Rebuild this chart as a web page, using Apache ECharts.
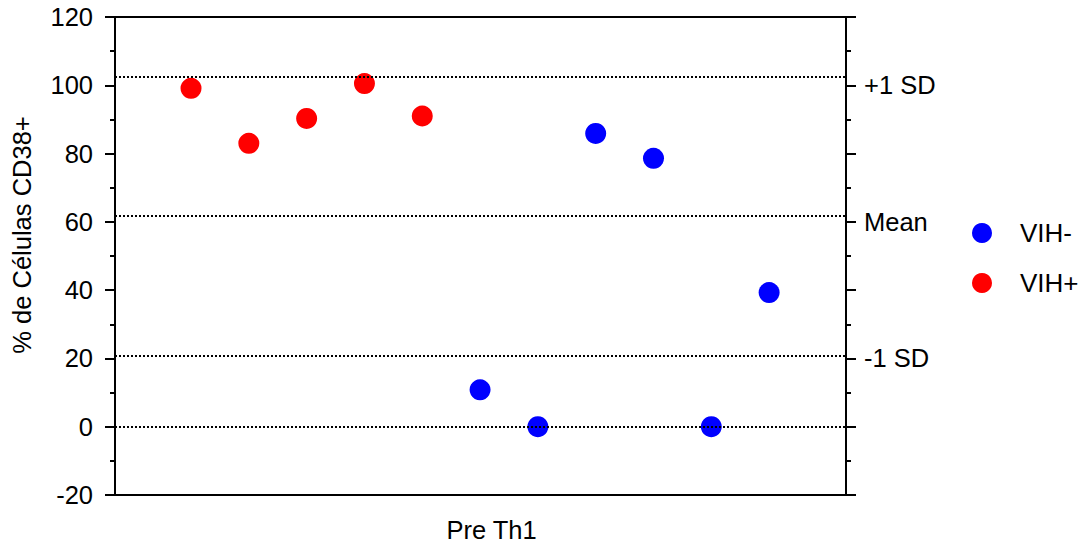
<!DOCTYPE html>
<html>
<head>
<meta charset="utf-8">
<script src="https://cdn.jsdelivr.net/npm/echarts@6/dist/echarts.min.js"></script>
<style>
html,body{margin:0;padding:0;background:#fff;}
#chart{width:1086px;height:544px;}
</style>
</head>
<body>
<div id="chart"></div>
<script>
// ---- data ----
const categoryLabel = 'Pre Th1';
const yAxisTitle = '% de Células CD38+';
const seriesNames = ['VIH-', 'VIH+'];
const vihNegPos = [5, 6, 7, 8, 9, 10];
const vihNegVals = [10.8, 0, 85.9, 78.6, 0, 39.3];
const vihPosPos = [0, 1, 2, 3, 4];
const vihPosVals = [99.1, 83.0, 90.3, 100.5, 91.0];
const refLineVals = [102.6, 61.8, 20.8, 0];
const rightLabelTicks = [100, 60, 20];
const rightLabelTexts = ['+1 SD', 'Mean', '-1 SD'];
const yTicks = [-20, 0, 20, 40, 60, 80, 100, 120];

const FONT = "'Liberation Sans', Arial, sans-serif";
const FS = 25.5;

const chart = echarts.init(document.getElementById('chart'), null, {renderer: 'svg'});

const yBase = {
  type: 'value', min: yTicks[0], max: yTicks[yTicks.length - 1], interval: 20,
  splitLine: {show: false},
  axisLine: {show: true, onZero: false, lineStyle: {color: '#000', width: 2}},
  axisTick: {show: true, length: 10, lineStyle: {color: '#000', width: 2}},
  minorTick: {show: true, splitNumber: 2, length: 5, lineStyle: {color: '#000', width: 2}},
};

chart.setOption({
  animation: false,
  backgroundColor: '#fff',
  grid: {left: 115, right: 240, top: 17, bottom: 49, containLabel: false, outerBoundsMode: 'none'},
  legend: {
    orient: 'vertical', left: 972, top: 220, padding: 0,
    itemWidth: 20, itemHeight: 20, itemGap: 24, icon: 'circle',
    data: seriesNames,
    textStyle: {fontFamily: FONT, fontSize: 26, color: '#000', padding: [0, 0, 0, 23]}
  },
  xAxis: [{
    type: 'value', min: -1.315, max: 11.33, position: 'bottom',
    name: categoryLabel, nameLocation: 'middle', nameGap: 22,
    nameTextStyle: {fontFamily: FONT, fontSize: FS, lineHeight: 26, color: '#000', padding: [0, 0, 0, 22]},
    splitLine: {show: false}, axisTick: {show: false}, axisLabel: {show: false},
    axisLine: {show: true, onZero: false, lineStyle: {color: '#000', width: 2}}
  }, {
    type: 'value', min: -1.315, max: 11.33, position: 'top',
    splitLine: {show: false}, axisTick: {show: false}, axisLabel: {show: false},
    axisLine: {show: true, onZero: false, lineStyle: {color: '#000', width: 2}}
  }],
  yAxis: [Object.assign({}, yBase, {
    position: 'left',
    name: yAxisTitle, nameLocation: 'middle', nameGap: 80, nameRotate: 90,
    nameTextStyle: {fontFamily: FONT, fontSize: FS, color: '#000', padding: [0, 0, 0, 42]},
    axisLabel: {fontFamily: FONT, fontSize: FS, color: '#000', margin: 22}
  }), Object.assign({}, yBase, {
    position: 'right',
    axisLabel: {
      fontFamily: FONT, fontSize: FS, color: '#000', margin: 18,
      formatter: function (v) {
        const i = rightLabelTicks.indexOf(v);
        return i >= 0 ? rightLabelTexts[i] : '';
      }
    }
  })],
  series: [{
    name: seriesNames[0], type: 'scatter', symbol: 'circle', symbolSize: 21,
    itemStyle: {color: '#0000ff', opacity: 1},
    data: vihNegPos.map((x, i) => [x, vihNegVals[i]]),
    markLine: {
      silent: true, symbol: ['none', 'none'], label: {show: false},
      lineStyle: {color: '#000', type: [2, 2], width: 2, opacity: 1},
      data: refLineVals.map(v => ({yAxis: v}))
    },
    z: 3
  }, {
    name: seriesNames[1], type: 'scatter', symbol: 'circle', symbolSize: 21,
    itemStyle: {color: '#ff0000', opacity: 1},
    data: vihPosPos.map((x, i) => [x, vihPosVals[i]]),
    z: 3
  }]
});
</script>
</body>
</html>
